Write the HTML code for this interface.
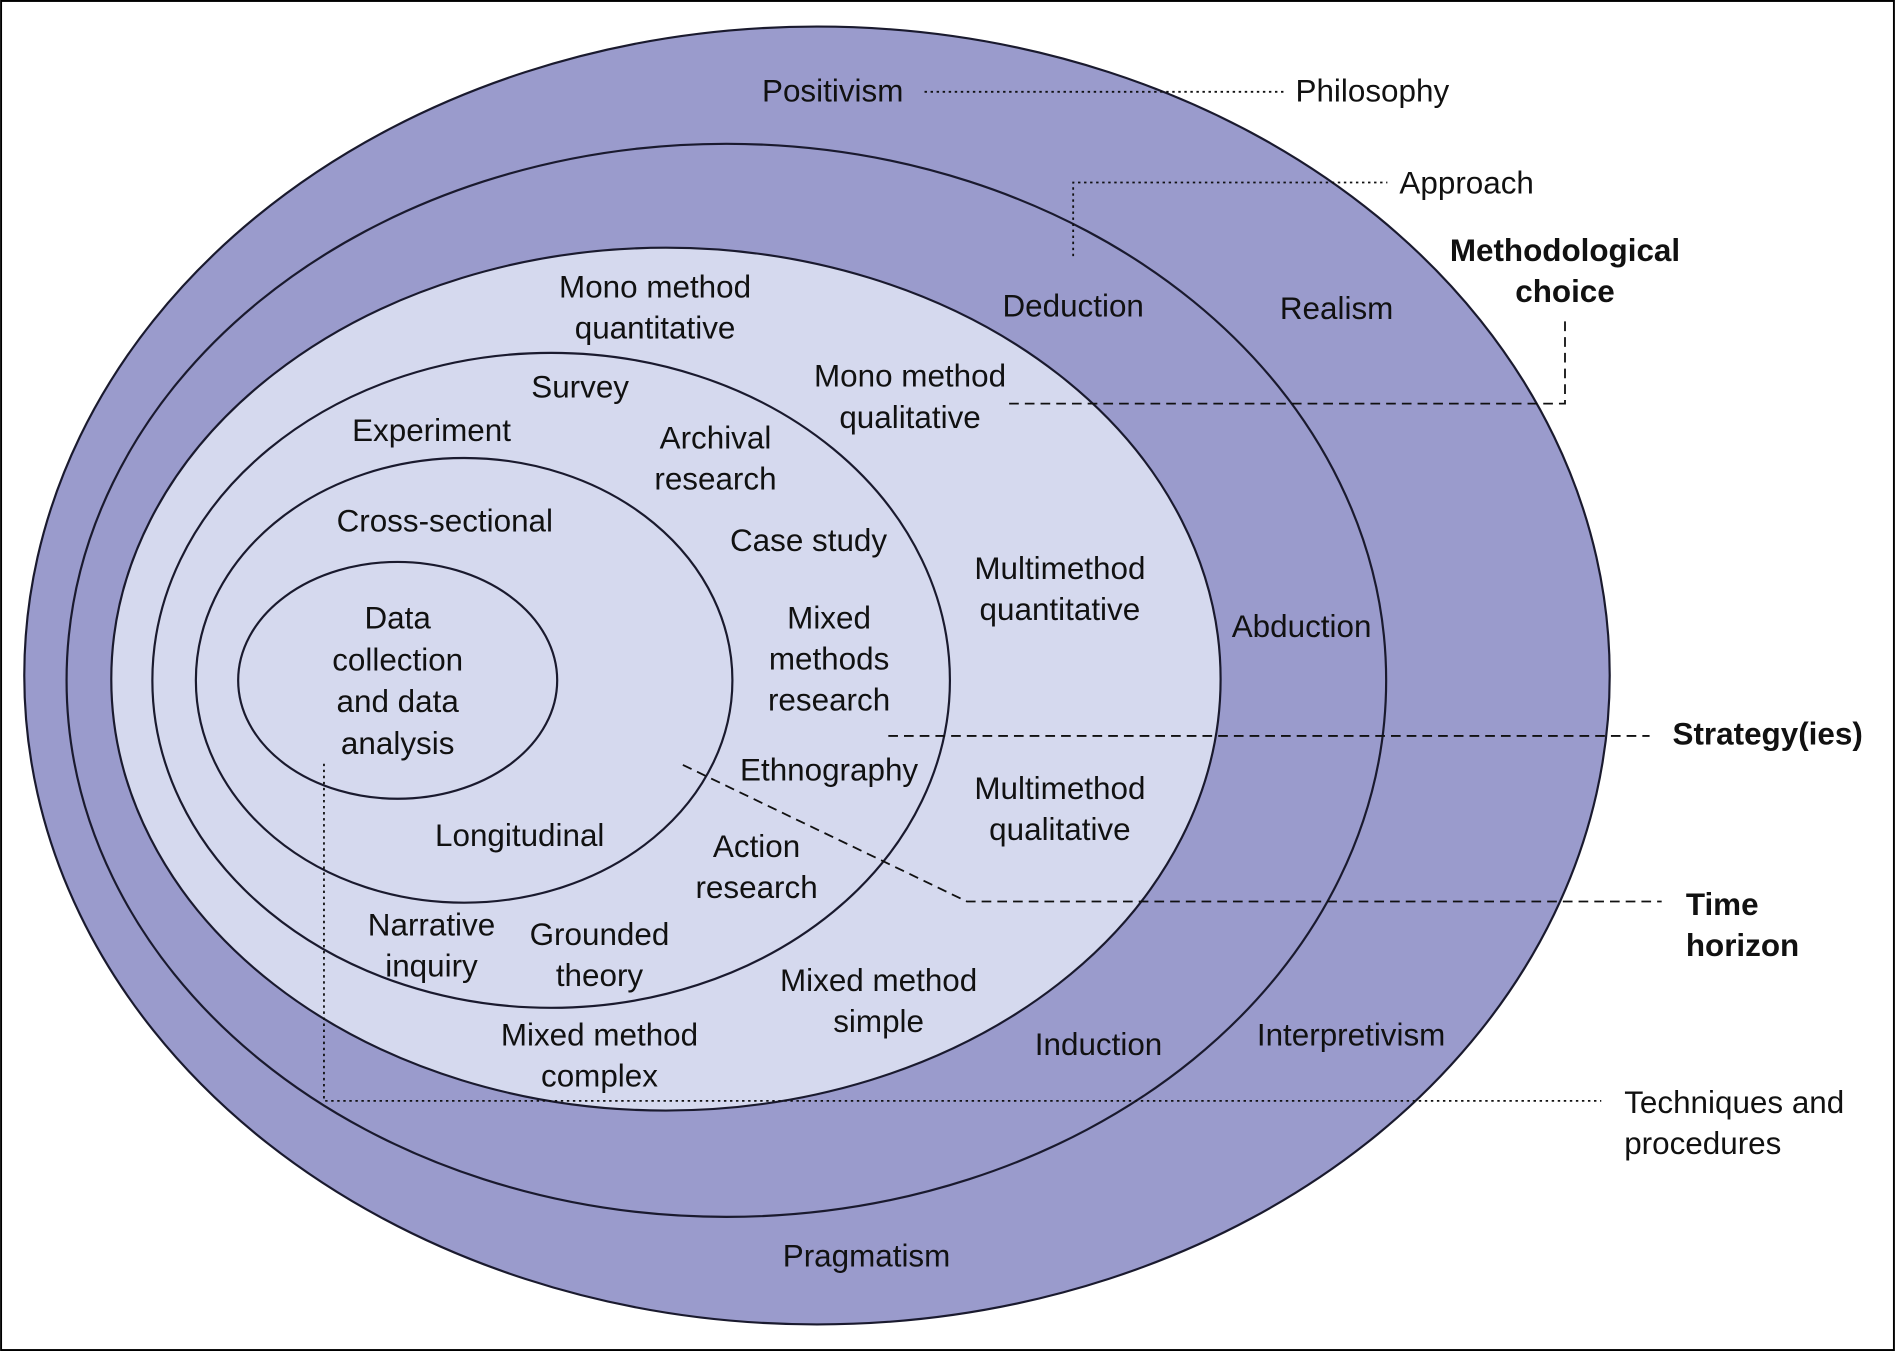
<!DOCTYPE html>
<html><head><meta charset="utf-8"><style>
html,body{margin:0;padding:0;background:#fff;}
svg{display:block;}
text{font-family:"Liberation Sans","DejaVu Sans",sans-serif;font-size:26px;fill:#111;text-anchor:middle;}
.b{font-weight:bold;}
.l{text-anchor:start;}
</style></head><body>
<svg width="1895" height="1351" viewBox="0 0 1568 1118" xmlns="http://www.w3.org/2000/svg">
<rect x="0.8" y="0.8" width="1566.4" height="1116.4" fill="#fff" stroke="#000" stroke-width="1.6"/>
<g stroke="#1a1a2e" stroke-width="1.8">
<ellipse cx="676" cy="559" rx="656" ry="537" fill="#9a9bcc"/>
<ellipse cx="601" cy="563" rx="546" ry="444" fill="#9a9bcc"/>
<ellipse cx="551" cy="562" rx="459" ry="357" fill="#d5d9ee"/>
<ellipse cx="456" cy="563" rx="330" ry="271" fill="#d5d9ee"/>
<ellipse cx="384" cy="563" rx="222" ry="184" fill="#d5d9ee"/>
<ellipse cx="329" cy="563" rx="132" ry="98" fill="#d5d9ee"/>
</g>
<g fill="none" stroke="#111" stroke-width="1.5">
<path d="M765 76H1065" stroke-dasharray="2 3"/>
<path d="M888 212V151H1148" stroke-dasharray="2 3"/>
<path d="M835 334H1295V262" stroke-dasharray="8 5"/>
<path d="M735 609H1365" stroke-dasharray="8 5"/>
<path d="M565 633L800 746H1375" stroke-dasharray="8 5"/>
<path d="M268 632V911H1325" stroke-dasharray="2 3"/>
</g>
<text x="689" y="84">Positivism</text>
<text x="1072" y="84" class="l">Philosophy</text>
<text x="1158" y="160" class="l">Approach</text>
<text x="1295" y="216" class="b">Methodological</text>
<text x="1295" y="250" class="b">choice</text>
<text x="888" y="262">Deduction</text>
<text x="1106" y="264">Realism</text>
<text x="542" y="246">Mono method</text>
<text x="542" y="280">quantitative</text>
<text x="753" y="320">Mono method</text>
<text x="753" y="354">qualitative</text>
<text x="480" y="329">Survey</text>
<text x="357" y="365">Experiment</text>
<text x="592" y="371">Archival</text>
<text x="592" y="405">research</text>
<text x="368" y="440">Cross-sectional</text>
<text x="669" y="456">Case study</text>
<text x="877" y="479">Multimethod</text>
<text x="877" y="513">quantitative</text>
<text x="329" y="520">Data</text>
<text x="329" y="555">collection</text>
<text x="329" y="589">and data</text>
<text x="329" y="624">analysis</text>
<text x="686" y="520">Mixed</text>
<text x="686" y="554">methods</text>
<text x="686" y="588">research</text>
<text x="1077" y="527">Abduction</text>
<text x="1384" y="616" class="b l">Strategy(ies)</text>
<text x="686" y="646">Ethnography</text>
<text x="877" y="661">Multimethod</text>
<text x="877" y="695">qualitative</text>
<text x="430" y="700">Longitudinal</text>
<text x="626" y="709">Action</text>
<text x="626" y="743">research</text>
<text x="1395" y="757" class="b l">Time</text>
<text x="1395" y="791" class="b l">horizon</text>
<text x="357" y="774">Narrative</text>
<text x="357" y="808">inquiry</text>
<text x="496" y="782">Grounded</text>
<text x="496" y="816">theory</text>
<text x="727" y="820">Mixed method</text>
<text x="727" y="854">simple</text>
<text x="496" y="865">Mixed method</text>
<text x="496" y="899">complex</text>
<text x="909" y="873">Induction</text>
<text x="1118" y="865">Interpretivism</text>
<text x="1344" y="921" class="l">Techniques and</text>
<text x="1344" y="955" class="l">procedures</text>
<text x="717" y="1048">Pragmatism</text>
</svg>
</body></html>
